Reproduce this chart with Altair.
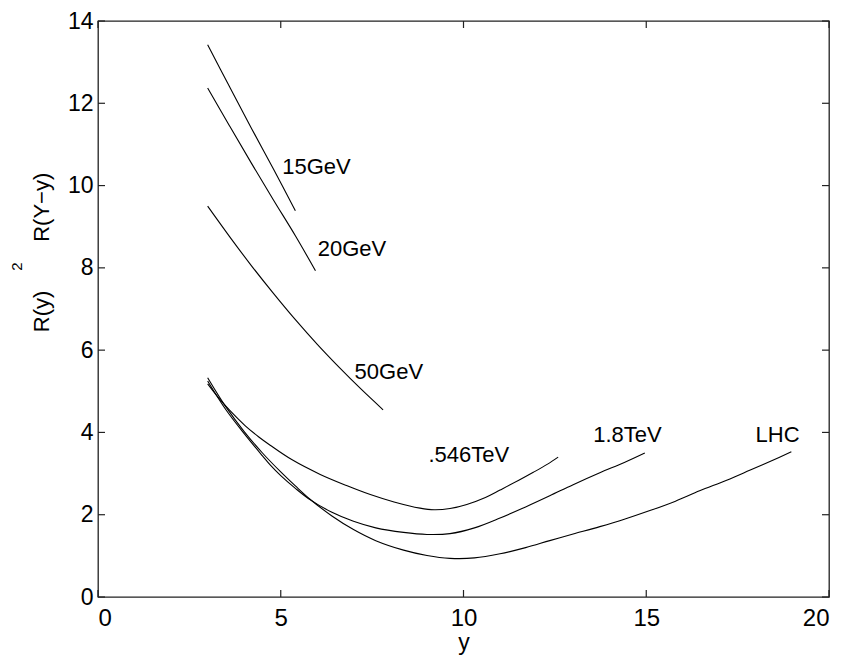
import altair as alt
import pandas as pd

# ---- data ----
x_ticks = [0, 5, 10, 15, 20]
y_ticks = [0, 2, 4, 6, 8, 10, 12, 14]

gev15_x = [3.0, 3.6, 4.2, 4.8, 5.4]
gev15_y = [13.42, 12.40, 11.39, 10.40, 9.39]

gev20_x = [3.0, 3.6, 4.2, 4.8, 5.4, 5.95]
gev20_y = [12.37, 11.45, 10.54, 9.65, 8.78, 7.93]

gev50_x = [3.0, 3.6, 4.2, 4.8, 5.4, 6.0, 6.6, 7.2, 7.8]
gev50_y = [9.50, 8.76, 8.05, 7.38, 6.74, 6.14, 5.58, 5.05, 4.55]

tev546_x = [3.0, 3.3, 3.6, 4.03, 4.4, 4.71, 5.3, 6.08, 6.8, 7.45, 8.1, 8.81, 9.2,
            9.63, 10.09, 10.6, 11.0, 11.5, 11.91, 12.3, 12.59]
tev546_y = [5.18, 4.84, 4.54, 4.16, 3.89, 3.69, 3.34, 2.98, 2.71, 2.49, 2.31, 2.16, 2.12,
            2.15, 2.25, 2.42, 2.60, 2.83, 3.03, 3.23, 3.40]

tev18_x = [3.0, 3.5, 4.0, 4.5, 4.71, 5.0, 5.4, 5.81, 6.4, 6.99, 7.6, 8.36, 9.0,
           9.63, 10.3, 11.0, 11.7, 12.36, 13.0, 13.73, 14.4, 14.96]
tev18_y = [5.25, 4.55, 3.97, 3.43, 3.21, 2.95, 2.64, 2.36, 2.06, 1.84, 1.68, 1.57, 1.52,
           1.54, 1.68, 1.92, 2.19, 2.46, 2.73, 3.02, 3.27, 3.50]

lhc_x = [3.0, 3.5, 4.0, 4.5, 5.0, 5.4, 5.81, 6.4, 6.99, 7.6, 8.36, 9.0, 9.63,
         10.3, 11.0, 11.7, 12.36, 13.0, 13.73, 14.4, 15.1, 15.8, 16.46, 17.2, 17.83,
         18.4, 18.97]
lhc_y = [5.33, 4.62, 4.02, 3.50, 3.04, 2.70, 2.37, 1.97, 1.64, 1.37, 1.14, 1.01, 0.94,
         0.95, 1.05, 1.20, 1.37, 1.53, 1.71, 1.89, 2.10, 2.33, 2.58, 2.84, 3.08,
         3.30, 3.53]

label_text = ["15GeV", "20GeV", "50GeV", ".546TeV", "1.8TeV", "LHC"]
label_x = [5.04, 6.01, 7.02, 9.04, 13.55, 17.99]
label_y = [10.29, 8.30, 5.31, 3.28, 3.77, 3.77]

y_title = "R(y)" + "\u00a0" * 8 + "R(Y\u2212y)"
y_sup = ["2"]

# ---- build tables ----
series = [
    ("15GeV", gev15_x, gev15_y),
    ("20GeV", gev20_x, gev20_y),
    ("50GeV", gev50_x, gev50_y),
    (".546TeV", tev546_x, tev546_y),
    ("1.8TeV", tev18_x, tev18_y),
    ("LHC", lhc_x, lhc_y),
]
rows = []
for name, xs, ys in series:
    for i, (a, b) in enumerate(zip(xs, ys)):
        rows.append({"series": name, "x": a, "y": b, "i": i})
lines_df = pd.DataFrame(rows)
labels_df = pd.DataFrame({"text": label_text, "x": label_x, "y": label_y})
xt_df = pd.DataFrame({"v": x_ticks})
yt_df = pd.DataFrame({"v": y_ticks})
sup_df = pd.DataFrame({"t": y_sup})

W, H = 731, 576
FONT = "Liberation Sans"
FRAME = "#222222"

xscale = alt.Scale(domain=[0, 20], nice=False, zero=False)
yscale = alt.Scale(domain=[0, 14], nice=False, zero=False)

x_axis = alt.Axis(values=x_ticks, title="y", grid=False, ticks=False, domain=False,
                  labelFontSize=24, labelPadding=9, labelColor="black", labelFont=FONT,
                  titleFontSize=23, titleFont=FONT, titleFontWeight="normal",
                  titleColor="black", titleY=52, titleBaseline="alphabetic")
y_axis = alt.Axis(values=y_ticks, title=y_title, grid=False, ticks=False, domain=False,
                  labelFontSize=23, labelPadding=5, labelColor="black", labelFont=FONT,
                  titleFontSize=22, titleFont=FONT, titleFontWeight="normal",
                  titleColor="black", titleX=-49.5, titleY=231, titleAngle=270,
                  titleAlign="center", titleBaseline="alphabetic")

lines = alt.Chart(lines_df).mark_line(color="black", strokeWidth=1.1,
                                      interpolate="catmull-rom").encode(
    x=alt.X("x:Q", scale=xscale, axis=x_axis),
    y=alt.Y("y:Q", scale=yscale, axis=y_axis),
    detail="series:N",
    order="i:Q",
)

labels = alt.Chart(labels_df).mark_text(align="left", baseline="alphabetic",
                                        fontSize=22, font=FONT, color="black").encode(
    x=alt.X("x:Q", scale=xscale),
    y=alt.Y("y:Q", scale=yscale),
    text="text:N",
)

tick_style = dict(color=FRAME, strokeWidth=1.2)
bottom_ticks = alt.Chart(xt_df).mark_rule(**tick_style).encode(
    x=alt.X("v:Q", scale=xscale), y=alt.value(H), y2=alt.value(H - 7))
top_ticks = alt.Chart(xt_df).mark_rule(**tick_style).encode(
    x=alt.X("v:Q", scale=xscale), y=alt.value(0), y2=alt.value(7))
left_ticks = alt.Chart(yt_df).mark_rule(**tick_style).encode(
    y=alt.Y("v:Q", scale=yscale), x=alt.value(0), x2=alt.value(7))
right_ticks = alt.Chart(yt_df).mark_rule(**tick_style).encode(
    y=alt.Y("v:Q", scale=yscale), x=alt.value(W), x2=alt.value(W - 7))

sup = alt.Chart(sup_df).mark_text(angle=270, fontSize=15, font=FONT, color="black",
                                  align="center", baseline="alphabetic").encode(
    x=alt.value(-76.5), y=alt.value(245.5), text="t:N")

chart = alt.layer(lines, labels, bottom_ticks, top_ticks, left_ticks, right_ticks, sup).properties(
    width=W, height=H,
    autosize=alt.AutoSizeParams(type="none"),
    padding={"left": 90, "top": 13, "right": 12, "bottom": 60},
    background="white",
).configure_view(stroke=FRAME, strokeWidth=1.3)

chart.save("out.html", embed_options={"renderer": "svg", "actions": False})
